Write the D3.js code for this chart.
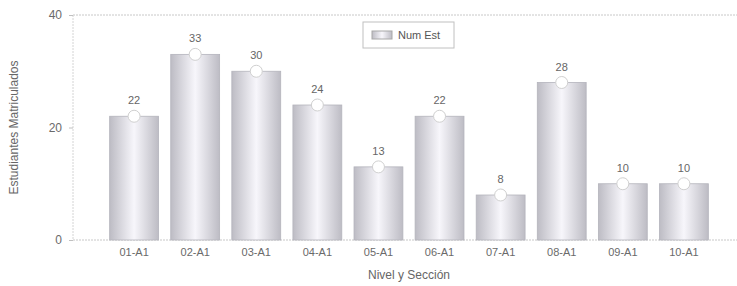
<!DOCTYPE html>
<html>
<head>
<meta charset="utf-8">
<script src="https://cdn.jsdelivr.net/npm/d3@7"></script>
<style>
  body { margin: 0; background: #fff; }
  svg { font-family: "Liberation Sans", Arial, sans-serif; }
  .tick text { fill: #6a6a6a; font-size: 11px; }
</style>
</head>
<body>
<svg></svg>
<script>
// data
var secciones = ["01-A1","02-A1","03-A1","04-A1","05-A1","06-A1","07-A1","08-A1","09-A1","10-A1"];
var numEst = [22, 33, 30, 24, 13, 22, 8, 28, 10, 10];
var yTicks = [0, 20, 40];

var screen = {width:737, height:286};
var margins = {top:15, bottom:46, left:73, right:0};
var graph = {
    width: screen.width - margins.left - margins.right,
    height: screen.height - margins.top - margins.bottom
};

var svg = d3.select("svg")
    .attr("width", screen.width)
    .attr("height", screen.height);

// bar gradient: grey edges, white-ish centre
var defs = svg.append("defs");
var grad = defs.append("linearGradient")
    .attr("id", "barGrad")
    .attr("x1", "0%").attr("x2", "100%")
    .attr("y1", "0%").attr("y2", "0%");
grad.append("stop").attr("offset", "0%").attr("stop-color", "#bdbcc4");
grad.append("stop").attr("offset", "50%").attr("stop-color", "#f7f6fb");
grad.append("stop").attr("offset", "100%").attr("stop-color", "#bdbcc4");

var xScale = d3.scaleBand()
    .domain(secciones)
    .range([0, 672])
    .paddingInner(0.2)
    .paddingOuter(0.6);

var yScale = d3.scaleLinear()
    .domain([0, 40])
    .range([graph.height, 0]);

var g = svg.append("g")
    .attr("transform", "translate(" + margins.left + "," + margins.top + ")");

// grid / frame lines
g.selectAll(".grid")
    .data([0, 40])
    .enter()
    .append("line")
    .attr("x1", 0)
    .attr("x2", graph.width)
    .attr("y1", function(d){ return yScale(d); })
    .attr("y2", function(d){ return yScale(d); })
    .attr("stroke", "#c8c8c8")
    .attr("stroke-width", 1)
    .attr("stroke-dasharray", "2,1");

g.append("line")
    .attr("x1", 0).attr("x2", 0)
    .attr("y1", 0).attr("y2", graph.height)
    .attr("stroke", "#d4d4d4")
    .attr("stroke-dasharray", "2,1");

// y axis
var yAxis = d3.axisLeft(yScale)
    .tickValues(yTicks)
    .tickSize(4)
    .tickPadding(7)
    .tickFormat(d3.format("d"));
var ya = g.append("g").call(yAxis);
ya.select(".domain").remove();
ya.selectAll(".tick line").attr("stroke", "#c0c0c0");
ya.selectAll(".tick text").style("font-size", "12px");

// x axis
var xAxis = d3.axisBottom(xScale).tickSize(0).tickPadding(8);
var xa = g.append("g")
    .attr("transform", "translate(0," + graph.height + ")")
    .call(xAxis);
xa.select(".domain").remove();

// bars
var bars = g.selectAll(".bar")
    .data(numEst)
    .enter()
    .append("g")
    .classed("bar", true);

bars.append("rect")
    .attr("x", function(d, i){ return xScale(secciones[i]); })
    .attr("y", function(d){ return yScale(d); })
    .attr("width", xScale.bandwidth())
    .attr("height", function(d){ return graph.height - yScale(d); })
    .attr("fill", "url(#barGrad)")
    .attr("stroke", "#b4b4bc")
    .attr("stroke-width", 0.8);

bars.append("circle")
    .attr("cx", function(d, i){ return xScale(secciones[i]) + xScale.bandwidth()/2; })
    .attr("cy", function(d){ return yScale(d); })
    .attr("r", 6)
    .attr("fill", "#fff")
    .attr("stroke", "#d0d0d0")
    .attr("stroke-width", 1);

bars.append("text")
    .text(function(d){ return d; })
    .attr("x", function(d, i){ return xScale(secciones[i]) + xScale.bandwidth()/2; })
    .attr("y", function(d){ return yScale(d) - 12; })
    .attr("text-anchor", "middle")
    .attr("fill", "#666")
    .style("font-size", "11px");

// legend
var legend = svg.append("g").attr("transform", "translate(363,22)");
legend.append("rect")
    .attr("width", 91).attr("height", 26)
    .attr("fill", "#fff")
    .attr("stroke", "#c0c0c0");
legend.append("rect")
    .attr("x", 9).attr("y", 9)
    .attr("width", 20).attr("height", 8)
    .attr("fill", "url(#barGrad)")
    .attr("stroke", "#a8a8a8");
legend.append("text")
    .text("Num Est")
    .attr("x", 35).attr("y", 17)
    .attr("fill", "#555")
    .style("font-size", "11px");

// axis titles
svg.append("text")
    .text("Nivel y Sección")
    .attr("x", margins.left + 336)
    .attr("y", 279)
    .attr("text-anchor", "middle")
    .attr("fill", "#666")
    .style("font-size", "12px");

svg.append("g")
    .attr("transform", "translate(18," + (margins.top + graph.height/2) + ")")
    .append("text")
    .text("Estudiantes Matriculados")
    .attr("text-anchor", "middle")
    .attr("transform", "rotate(-90)")
    .attr("fill", "#666")
    .style("font-size", "12px");
</script>
</body>
</html>
